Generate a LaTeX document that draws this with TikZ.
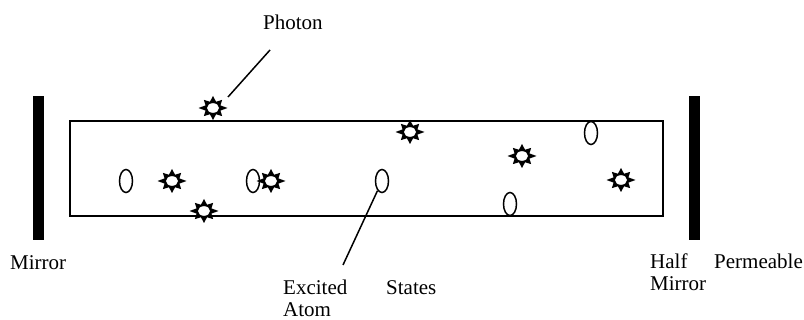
\documentclass[tikz,border=0pt]{standalone}
\usepackage{fontspec}
\setmainfont{Liberation Serif}
\usetikzlibrary{shapes.geometric}
\tikzset{
  lbl/.style={inner sep=0pt, anchor=base west, font=\fontsize{21}{22}\selectfont},
  atom/.style={draw, ellipse, line width=1.5pt, minimum width=13pt, minimum height=23pt, inner sep=0pt, fill=white},
  bar/.style={fill=black},
  thin line/.style={line width=1.5pt},
  photon/.pic={
    \fill[black] (0:14.5 and 12) -- (22.5:8 and 6.8) -- (45:13 and 11.5) -- (67.5:8 and 6.8)
      -- (90:14.5 and 12) -- (112.5:8 and 6.8) -- (135:13 and 11.5) -- (157.5:8 and 6.8)
      -- (180:14.5 and 12) -- (202.5:8 and 6.8) -- (225:13 and 11.5) -- (247.5:8 and 6.8)
      -- (270:14.5 and 12) -- (292.5:8 and 6.8) -- (315:13 and 11.5) -- (337.5:8 and 6.8) -- cycle;
    \fill[white] (0,0) ellipse (6 and 4.8);
  }
}
\begin{document}
\begin{tikzpicture}[x=1pt,y=-1pt]
\useasboundingbox (0,0) rectangle (804,320);
% mirrors
\fill[bar] (33,96) rectangle (44,240);
\fill[bar] (689,96) rectangle (700,240);
% cavity
\draw[line width=2pt] (70,121) rectangle (663,216);
% atoms
\node[atom] (a1) at (126,181) {};
\node[atom] (a2) at (253,181) {};
\node[atom] (a3) at (382,181) {};
\node[atom] (a4) at (510,204) {};
\node[atom] (a5) at (591,133) {};
% photons
\coordinate (s1) at (213,108);
\coordinate (s2) at (172,181);
\coordinate (s3) at (271,181);
\coordinate (s4) at (204,211);
\coordinate (s5) at (410,132);
\coordinate (s6) at (522,156);
\coordinate (s7) at (621,180);
\foreach \s in {s1,s2,s3,s4,s5,s6,s7} { \pic at (\s) {photon}; }
% labels
\node[lbl] (photon) at (263,30) {Photon};
\node[lbl] (mirror) at (10,270) {Mirror};
\node[lbl] (half) at (650,269) {Half};
\node[lbl] (perm) at (714,269) {Permeable};
\node[lbl] (mirror2) at (650,291) {Mirror};
\node[lbl] (excited) at (283,295) {Excited};
\node[lbl] (states) at (386,295) {States};
\node[lbl] (atomlbl) at (283,317) {Atom};
% leader lines
\coordinate (p1) at (228,97);
\coordinate (p2) at (270,50);
\draw[thin line] (p1) -- (p2);
\coordinate (ea) at (343,265);
\draw[thin line] (a3) -- (ea);
\end{tikzpicture}
\end{document}
